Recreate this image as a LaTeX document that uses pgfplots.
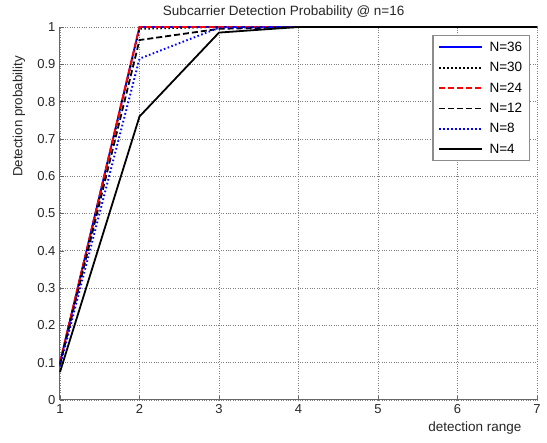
\documentclass[border=0pt]{standalone}
\usepackage{pgfplots}
\pgfplotsset{compat=1.18}
\usepackage{fontspec}
\setmainfont{Liberation Sans}
\begin{document}
\begin{tikzpicture}
\useasboundingbox (-60pt,-43pt) rectangle (487pt,400pt);
\begin{axis}[
  at={(0,0)}, anchor=south west,
  scale only axis, width=477pt, height=373pt,
  xmin=1, xmax=7, ymin=0, ymax=1,
  xtick={1,2,3,4,5,6,7},
  ytick={0,0.1,0.2,0.3,0.4,0.5,0.6,0.7,0.8,0.9,1},
  yticklabels={0,0.1,0.2,0.3,0.4,0.5,0.6,0.7,0.8,0.9,1},
  /pgf/number format/assume math mode=true,
  axis x line*=bottom, axis y line*=left,
  axis line style={black!60, line width=1pt},
  tick style={black!60},
  tick align=inside,
  major tick length=4pt,
  grid=major,
  major grid style={black!50, dotted, line width=0.7pt},
  tick label style={font=\fontsize{13}{15}\selectfont, text=black!85},
  yticklabel style={xshift=-1pt},
  xticklabel style={yshift=-1pt},
  title={Subcarrier Detection Probability @ n=16},
  title style={font=\fontsize{13.5}{15}\selectfont, text=black!85, at={(axis description cs:0.469,1)}, anchor=center, yshift=9pt},
  ylabel={Detection probability},
  ylabel style={font=\fontsize{13.3}{15}\selectfont, text=black!85, at={(axis description cs:-0.086,0.76)}, anchor=center, rotate=0},
  xlabel={detection range},
  xlabel style={font=\fontsize{13.5}{15}\selectfont, text=black!85, at={(axis description cs:0.87,0)}, anchor=center, yshift=-28pt},
  legend style={at={(rel axis cs:0.985,0.978)}, anchor=north east, draw=black!45, line width=1.2pt, fill=white, font=\fontsize{13.5}{15}\selectfont, row sep=5.5pt, inner xsep=5pt, inner ysep=4pt,
    /tikz/every odd column/.append style={column sep=5pt}},
  legend cell align=left,
  legend image code/.code={\draw[#1] (0cm,0cm) -- (1.5cm,0cm);},
  clip=false,
]
\addplot[blue, line width=1.8pt] coordinates {(1,0.10) (2,1.0) (3,1.0) (4,1.0) (5,1.0) (6,1.0) (7,1.0)};
\addlegendentry{N=36}
\addplot[black, dash pattern=on 1.6pt off 2.4pt, line width=1.8pt] coordinates {(1,0.10) (2,0.995) (3,1.0) (4,1.0) (5,1.0) (6,1.0) (7,1.0)};
\addlegendentry{N=30}
\addplot[red, dash pattern=on 6pt off 3pt, line width=1.9pt] coordinates {(1,0.10) (2,1.0) (3,1.0) (4,1.0) (5,1.0) (6,1.0) (7,1.0)};
\addlegendentry{N=24}
\addplot[black, dash pattern=on 6pt off 3pt, line width=1.8pt] coordinates {(1,0.095) (2,0.965) (3,0.995) (4,1.0) (5,1.0) (6,1.0) (7,1.0)};
\addlegendentry{N=12}
\addplot[blue, dash pattern=on 1.6pt off 2.4pt, line width=1.9pt] coordinates {(1,0.09) (2,0.915) (3,0.998) (4,1.0) (5,1.0) (6,1.0) (7,1.0)};
\addlegendentry{N=8}
\addplot[black, line width=1.8pt] coordinates {(1,0.075) (2,0.76) (3,0.985) (4,1.0) (5,1.0) (6,1.0) (7,1.0)};
\addlegendentry{N=4}
\end{axis}
\end{tikzpicture}
\end{document}
